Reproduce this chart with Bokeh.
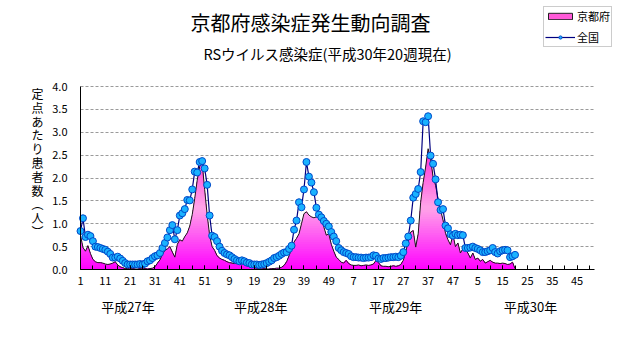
import numpy as np
from bokeh.plotting import figure
from bokeh.models import (Range1d, FixedTicker, Label, Legend, LegendItem,
                          ColumnDataSource, NumeralTickFormatter, LinearAxis, Grid)
from bokeh.embed import file_html
from bokeh.resources import INLINE

FONT = "Noto Sans CJK JP"

# ---- data -------------------------------------------------------------
# consecutive week positions: 2015 wk1 .. 2018 wk20 (52 weeks per year)
week_pos = list(range(1, 177))

kyoto_2015 = [0.75, 0.48, 0.40, 0.52, 0.35, 0.22, 0.17, 0.15, 0.15, 0.14,
              0.12, 0.11, 0.12, 0.14, 0.17, 0.10, 0.06, 0.04, 0.02, 0.02,
              0.01, 0.02, 0.01, 0.01, 0.02, 0.01, 0.02, 0.01, 0.02, 0.03,
              0.06, 0.14, 0.21, 0.33, 0.42, 0.45, 0.50, 0.38, 0.27, 0.55,
              0.65, 0.62, 0.72, 0.80, 0.95, 1.20, 1.55, 1.95, 2.25, 2.33,
              1.75, 1.20]
kyoto_2016 = [0.75, 0.50, 0.42, 0.30, 0.25, 0.22, 0.20, 0.17, 0.15, 0.14,
              0.13, 0.13, 0.15, 0.20, 0.12, 0.08, 0.06, 0.05, 0.04, 0.03,
              0.02, 0.01, 0.02, 0.01, 0.01, 0.02, 0.02, 0.03, 0.03, 0.05,
              0.09, 0.17, 0.30, 0.45, 0.60, 0.68, 0.78, 1.00, 1.22, 1.26,
              1.19, 1.15, 1.13, 1.15, 1.19, 1.08, 0.93, 0.75, 0.78, 0.55,
              0.40, 0.27]
kyoto_2017 = [0.22, 0.16, 0.14, 0.20, 0.13, 0.10, 0.09, 0.09, 0.10, 0.08,
              0.09, 0.10, 0.09, 0.10, 0.12, 0.20, 0.15, 0.08, 0.07, 0.07,
              0.06, 0.07, 0.08, 0.07, 0.08, 0.11, 0.20, 0.38, 0.62, 0.82,
              0.85, 0.49, 0.78, 1.47, 1.90, 2.24, 2.64, 2.42, 2.02, 1.84,
              1.55, 1.30, 1.08, 0.79, 0.65, 0.54, 0.76, 0.50, 0.58, 0.36,
              0.45, 0.44]
kyoto_2018 = [0.36, 0.25, 0.36, 0.22, 0.25, 0.18, 0.22, 0.14, 0.17, 0.20,
              0.16, 0.14, 0.14, 0.13, 0.14, 0.13, 0.11, 0.12, 0.16, 0.02]

zenkoku_2015 = [0.84, 1.12, 0.71, 0.76, 0.73, 0.62, 0.50, 0.49, 0.47, 0.45,
                0.43, 0.39, 0.34, 0.26, 0.26, 0.28, 0.24, 0.19, 0.14, 0.11,
                0.11, 0.11, 0.11, 0.11, 0.12, 0.11, 0.13, 0.18, 0.20, 0.25,
                0.29, 0.31, 0.36, 0.47, 0.58, 0.70, 0.86, 0.97, 0.66, 0.86,
                1.18, 1.23, 1.32, 1.52, 1.51, 1.75, 2.14, 2.12, 2.35, 2.37,
                2.21, 1.85]
zenkoku_2016 = [1.18, 0.74, 0.71, 0.62, 0.50, 0.41, 0.36, 0.33, 0.31, 0.27,
                0.23, 0.20, 0.18, 0.20, 0.18, 0.15, 0.14, 0.11, 0.11, 0.11,
                0.10, 0.11, 0.12, 0.14, 0.17, 0.20, 0.25, 0.27, 0.30, 0.34,
                0.37, 0.38, 0.45, 0.52, 0.87, 1.07, 1.47, 1.36, 1.75, 2.35,
                2.03, 1.90, 1.69, 1.35, 1.20, 1.14, 1.06, 1.00, 0.94, 0.82,
                0.72, 0.62]
zenkoku_2017 = [0.47, 0.42, 0.38, 0.36, 0.34, 0.29, 0.27, 0.27, 0.26, 0.26,
                0.25, 0.26, 0.26, 0.27, 0.31, 0.30, 0.24, 0.23, 0.25, 0.25,
                0.26, 0.27, 0.27, 0.28, 0.27, 0.30, 0.38, 0.57, 0.72, 1.07,
                1.57, 1.65, 1.76, 2.13, 3.24, 3.22, 3.35, 2.49, 2.31, 1.97,
                1.47, 1.30, 1.32, 0.96, 0.90, 0.77, 0.74, 0.78, 0.75, 0.76,
                0.75, 0.47]
zenkoku_2018 = [0.47, 0.48, 0.50, 0.47, 0.45, 0.42, 0.38, 0.38, 0.40, 0.42,
                0.47, 0.38, 0.35, 0.40, 0.42, 0.43, 0.42, 0.27, 0.29, 0.32]

kyoto = kyoto_2015 + kyoto_2016 + kyoto_2017 + kyoto_2018
zenkoku = zenkoku_2015 + zenkoku_2016 + zenkoku_2017 + zenkoku_2018

tick_positions = [1, 11, 21, 31, 41, 51, 61, 71, 81, 91, 101,
                  111, 121, 131, 141, 151, 161, 171, 181, 191, 201]
tick_labels = ["1", "11", "21", "31", "41", "51", "9", "19", "29", "39", "49",
               "7", "17", "27", "37", "47", "5", "15", "25", "35", "45"]
year_labels = ["平成27年", "平成28年", "平成29年", "平成30年"]
year_centers = [20.1, 73.6, 127.9, 182.2]
y_ticks = [0.0, 0.5, 1.0, 1.5, 2.0, 2.5, 3.0, 3.5, 4.0]

title_text = "京都府感染症発生動向調査"
subtitle_text = "RSウイルス感染症(平成30年20週現在)"
ylabel_chars = ["定", "点", "あ", "た", "り", "患", "者", "数", "︵", "人", "︶"]

# ---- layout helpers: pixel layout -> data units -----------------------
W, H = 631, 347
X0_PX, PX_PER_WEEK = 80, 2.483       # week 1 sits on the value axis
Y0_PX, PX_PER_UNIT = 269, 45.75      # 0.0 line
def dx(px):
    return (px - X0_PX) / PX_PER_WEEK + 1
def dy(py):
    return (Y0_PX - py) / PX_PER_UNIT

# ---- figure: frame = whole canvas, axes pinned with fixed_location ----
p = figure(width=W, height=H, output_backend="svg", toolbar_location=None,
           x_range=Range1d(dx(0), dx(W)), y_range=Range1d(dy(H), dy(0)),
           x_axis_location=None, y_axis_location=None, min_border=0)
p.outline_line_color = None
p.background_fill_color = "white"
p.border_fill_color = "white"
for g in p.grid:
    g.visible = False

# horizontal dashed grid
grid = Grid(dimension=1, ticker=FixedTicker(ticks=y_ticks), bounds=(0, 4),
            grid_line_color="#9a9a9a", grid_line_dash="3 2", grid_line_width=1)
try:
    grid.cross_bounds = (1, 208)
except Exception:
    pass
p.add_layout(grid)

src = ColumnDataSource(dict(x=week_pos, kyoto=kyoto, zenkoku=zenkoku))

# Kyoto area with a vertical magenta -> light pink -> magenta gradient,
# painted as nested clipped areas (each contained inside the true area)
k_arr = np.array(kyoto)
lo = np.array([255, 0, 255])
mid = np.array([255, 165, 232])
hi = np.array([255, 40, 215])
def grad(v):
    if v <= 1.35:
        t = v / 1.35
        c = lo + (mid - lo) * t
    else:
        t = min((v - 1.35) / 1.35, 1.0)
        c = mid + (hi - mid) * t
    return "#%02x%02x%02x" % tuple(int(round(u)) for u in c)

step = 0.05
levels = np.arange(2.70, 0, -step)
for b in levels:
    p.varea(x=week_pos, y1=np.zeros(len(k_arr)), y2=np.minimum(k_arr, b),
            fill_color=grad(b - step / 2), fill_alpha=1.0)

p.line("x", "kyoto", source=src, line_color="#1a1a1a", line_width=1)

# national line + markers
zl = p.line("x", "zenkoku", source=src, line_color="#000080", line_width=1.2)
zs = p.scatter("x", "zenkoku", source=src, size=7, marker="circle",
               fill_color="#1AB2FF", line_color="#0048C8", line_width=1)

# legend proxy for the area (a single undrawable row)
kq = p.quad(left=[np.nan], right=[np.nan], top=[np.nan], bottom=[np.nan],
            fill_color="#FF5AD8", line_color="#202020", line_width=1)

legend = Legend(items=[LegendItem(label="京都府", renderers=[kq], index=0),
                       LegendItem(label="全国", renderers=[zl, zs])],
                location=(543, H - 47), orientation="vertical",
                border_line_color="#9a9a9a", border_line_width=1,
                background_fill_color="white", background_fill_alpha=1.0,
                padding=1, spacing=5, margin=0,
                glyph_width=30, glyph_height=8, label_standoff=2,
                label_height=14, label_text_font=FONT,
                label_text_font_size="11px", label_text_color="black")
p.add_layout(legend, "center")

# axes pinned to the data origin
xaxis = LinearAxis(fixed_location=0, bounds=(1, 208),
                   ticker=FixedTicker(ticks=tick_positions,
                                      minor_ticks=list(range(1, 209, 5))))
xaxis.major_label_overrides = {t: l for t, l in zip(tick_positions, tick_labels)}
xaxis.axis_line_color = "black"
xaxis.major_tick_in = 4
xaxis.major_tick_out = 0
xaxis.minor_tick_in = 4
xaxis.minor_tick_out = 0
xaxis.major_tick_line_color = "black"
xaxis.minor_tick_line_color = "black"
xaxis.major_label_standoff = 7
xaxis.major_label_text_font = FONT
xaxis.major_label_text_font_size = "11px"
xaxis.major_label_text_color = "black"
p.add_layout(xaxis, "below")

yaxis = LinearAxis(fixed_location=1, bounds=(0, 4),
                   ticker=FixedTicker(ticks=y_ticks, minor_ticks=[]),
                   formatter=NumeralTickFormatter(format="0.0"))
yaxis.axis_line_color = "black"
yaxis.major_tick_in = 0
yaxis.major_tick_out = 0
yaxis.minor_tick_in = 0
yaxis.minor_tick_out = 0
yaxis.major_label_standoff = 13
yaxis.major_label_text_font = FONT
yaxis.major_label_text_font_size = "11px"
yaxis.major_label_text_color = "black"
p.add_layout(yaxis, "left")

# texts
p.add_layout(Label(x=dx(310), y=dy(22), text=title_text, text_align="center",
                   text_baseline="middle", text_font=FONT,
                   text_font_size="20px", text_color="black"))
p.add_layout(Label(x=dx(327), y=dy(53), text=subtitle_text, text_align="center",
                   text_baseline="middle", text_font=FONT,
                   text_font_size="14.5px", text_color="black"))
for xc, txt in zip(year_centers, year_labels):
    p.add_layout(Label(x=xc, y=dy(306), text=txt, text_align="center",
                       text_baseline="middle", text_font=FONT,
                       text_font_size="13px", text_color="black"))
for k, ch in enumerate(ylabel_chars):
    p.add_layout(Label(x=dx(37), y=dy(93 + 13.8 * k), text=ch, text_align="center",
                       text_baseline="middle", text_font=FONT,
                       text_font_size="12px", text_color="black"))

open("out.html", "w").write(file_html(p, INLINE))
